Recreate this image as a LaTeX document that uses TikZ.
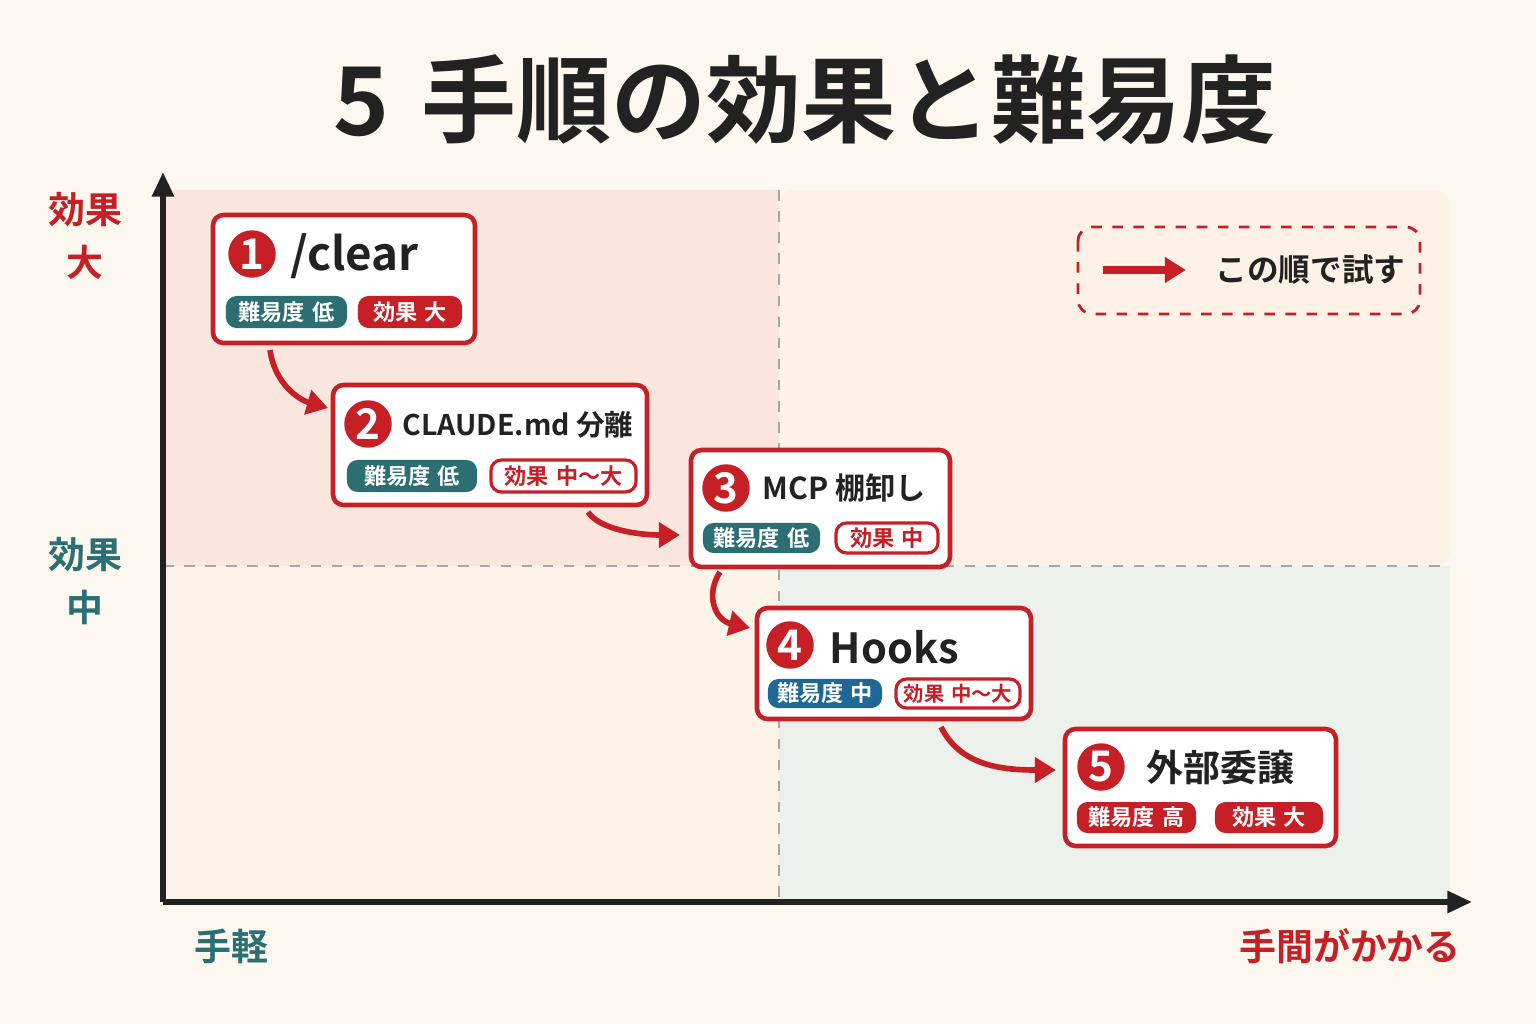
\documentclass[tikz,border=0pt]{standalone}
\usepackage{fontspec}
\setmainfont{Noto Sans CJK JP}[BoldFont={* Bold}]
\usetikzlibrary{arrows.meta}
\definecolor{bgcol}{HTML}{FCF8F0}
\definecolor{redc}{HTML}{C62026}
\definecolor{tealc}{HTML}{2B6F73}
\definecolor{bluec}{HTML}{1F6794}
\definecolor{inkc}{HTML}{222222}
\definecolor{qa}{HTML}{FBE6DE}
\definecolor{qb}{HTML}{FDF2E5}
\definecolor{qc}{HTML}{FDF4E9}
\definecolor{qd}{HTML}{ECF1EC}
\tikzset{
  card/.style={draw=redc,line width=1.3pt,fill=white,rounded corners=3pt},
  num/.style={circle,fill=redc,text=white,font=\bfseries\fontsize{12}{12}\selectfont,inner sep=0pt,minimum size=13.5pt},
  ttl/.style={anchor=west,text=inkc,font=\bfseries\fontsize{12}{12}\selectfont,inner sep=0pt},
  badge/.style={rounded corners=3pt,text=white,font=\bfseries\fontsize{6.3}{6.3}\selectfont,inner sep=0pt},
  flow/.style={draw=redc,line width=1.6pt,-{Triangle[length=6pt,width=7pt]}},
  axlbl/.style={font=\bfseries\fontsize{10.5}{11}\selectfont},
}
\begin{document}
\begin{tikzpicture}[x=0.01cm,y=-0.01cm]
\useasboundingbox[fill=bgcol] (0,0) rectangle (1536,1024);
% quadrants
\fill[qa] (163,190) rectangle (779,566);
\fill[qb,rounded corners=4pt] (779,190) -| (1450,566) -- (779,566) -- cycle;
\fill[qc] (163,566) rectangle (779,900);
\fill[qd] (779,566) rectangle (1450,900);
\draw[gray!70,dashed,line width=0.5pt] (779,190) -- (779,900);
\draw[gray!70,dashed,line width=0.5pt] (163,566) -- (1450,566);
% title
\node[text=inkc,font=\bfseries\fontsize{27}{30}\selectfont] (title) at (805,100) {5\,\,手順の効果と難易度};
% axes
\coordinate (org) at (163,902);
\coordinate (ytop) at (163,172);
\coordinate (xend) at (1472,902);
\draw[inkc,line width=1.6pt,-{Triangle[length=7pt,width=6pt]}] (org) -- (ytop);
\draw[inkc,line width=1.6pt,-{Triangle[length=7pt,width=6pt]}] (org) -- (xend);
\node[axlbl,text=redc] (ybig) at (85,210) {効果};
\node[axlbl,text=redc] (ybig2) at (85,262) {大};
\node[axlbl,text=tealc] (ymid) at (85,555) {効果};
\node[axlbl,text=tealc] (ymid2) at (85,607) {中};
\node[axlbl,text=tealc] (xeasy) at (231,946) {手軽};
\node[axlbl,text=redc] (xhard) at (1350,946) {手間がかかる};
% legend
\draw[redc,dashed,line width=0.8pt,rounded corners=4pt] (1078,227) rectangle (1420,314);
\coordinate (la) at (1103,270);
\coordinate (lb) at (1186,270);
\draw[flow,line width=2pt] (la) -- (lb);
\node[anchor=west,text=inkc,font=\bfseries\fontsize{9}{9}\selectfont] (leg) at (1203,270) {この順で試す};
% step 1
\draw[card] (213,215) rectangle (475,343);
\node[num] (n1) at (252,254) {1};
\node[ttl,font=\bfseries\fontsize{13}{13}\selectfont] (t1) at (290,256) {/clear};
\node[badge,fill=tealc,minimum width=1.21cm,minimum height=0.32cm] (d1) at (286.5,312) {難易度\,\,低};
\node[badge,fill=redc,minimum width=1.04cm,minimum height=0.32cm] (e1) at (410,312) {効果\,\,大};
% step 2
\draw[card] (333,385) rectangle (647,505);
\node[num] (n2) at (368,424) {2};
\node[ttl,font=\bfseries\fontsize{8.1}{9}\selectfont] (t2) at (402,425) {CLAUDE.md 分離};
\node[badge,fill=tealc,minimum width=1.30cm,minimum height=0.32cm] (d2) at (412,476) {難易度\,\,低};
\node[badge,draw=redc,line width=0.9pt,fill=white,text=redc,minimum width=1.45cm,minimum height=0.32cm] (e2) at (563.5,476) {効果\,\,中〜大};
% step 3
\draw[card] (691,450) rectangle (950,567);
\node[num] (n3) at (726,488) {3};
\node[ttl,font=\bfseries\fontsize{8.6}{9}\selectfont] (t3) at (762,488) {MCP 棚卸し};
\node[badge,fill=tealc,minimum width=1.17cm,minimum height=0.30cm] (d3) at (761.5,538) {難易度\,\,低};
\node[badge,draw=redc,line width=0.9pt,fill=white,text=redc,minimum width=1.02cm,minimum height=0.30cm] (e3) at (887,538) {効果\,\,中};
% step 4
\draw[card] (757,608) rectangle (1031,719);
\node[num] (n4) at (790,645) {4};
\node[ttl,font=\bfseries\fontsize{11.8}{12}\selectfont] (t4) at (829,647) {Hooks};
\node[badge,fill=bluec,minimum width=1.14cm,minimum height=0.29cm] (d4) at (825,693.5) {難易度\,\,中};
\node[badge,draw=redc,line width=0.9pt,fill=white,text=redc,minimum width=1.24cm,minimum height=0.29cm,font=\bfseries\fontsize{5.8}{6}\selectfont] (e4) at (958,693.5) {効果\,\,中〜大};
% step 5
\draw[card] (1065,729) rectangle (1336,846);
\node[num] (n5) at (1101,767) {5};
\node[ttl,font=\bfseries\fontsize{10.5}{11}\selectfont] (t5) at (1146,767) {外部委譲};
\node[badge,fill=redc,minimum width=1.19cm,minimum height=0.31cm] (d5) at (1136.5,817.5) {難易度\,\,高};
\node[badge,fill=redc,minimum width=1.08cm,minimum height=0.31cm] (e5) at (1269,817.5) {効果\,\,大};
% flow arrows
\coordinate (a1) at (270,350); \coordinate (a2) at (328,408);
\coordinate (b1) at (588,512); \coordinate (b2) at (680,535);
\coordinate (c1) at (720,572); \coordinate (c2) at (750,628);
\coordinate (d1a) at (941,727); \coordinate (d2a) at (1056,770);
\draw[flow] (a1) .. controls (275,385) and (300,400) .. (a2);
\draw[flow] (b1) .. controls (600,530) and (640,535) .. (b2);
\draw[flow] (c1) .. controls (705,595) and (715,620) .. (c2);
\draw[flow] (d1a) .. controls (960,765) and (1000,770) .. (d2a);
\end{tikzpicture}
\end{document}
